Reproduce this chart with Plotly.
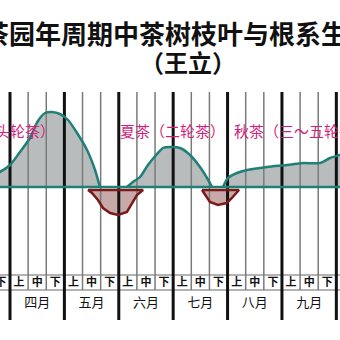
import plotly.graph_objects as go

# ---------------- data ----------------
MONTHS = ["四月", "五月", "六月", "七月", "八月", "九月"]
DEKADS = ["上", "中", "下"]
PREV_DEKAD = "下"  # last dekad of March, partly visible

TITLE_1 = "茶园年周期中茶树枝叶与根系生长规律"
TITLE_2 = "（王立）"

# shoot growth (above baseline); x in dekads from 1 April
SPRING_X = [-1.10, -0.55, 0.00, 0.55, 1.10, 1.54, 1.93, 2.32, 2.76, 3.20, 3.70, 4.25, 4.69, 4.96]
SPRING_Y = [9, 15, 22, 35, 49, 66, 74, 75, 73, 67, 54, 37, 17, 0]
SUMMER_X = [6.45, 6.78, 7.17, 7.61, 8.11, 8.44, 8.82, 9.38, 9.93, 10.48, 10.87, 11.14]
SUMMER_Y = [0, 5, 10, 22, 33, 39, 40, 39, 32, 20, 9, 0]
AUTUMN_X = [11.75, 12.03, 12.52, 13.07, 14.18, 15.28, 16.16, 17.10, 17.65, 18.20, 18.75]
AUTUMN_Y = [0, 9, 14, 17, 20, 22, 24, 24, 29, 32, 35]

# root growth (below baseline)
ROOT1_X = [4.30, 4.52, 4.85, 5.13, 5.52, 5.96, 6.45, 6.73, 7.00, 7.34]
ROOT1_Y = [-3, -6, -13, -21, -26, -28, -25, -17, -8, -3]
ROOT2_X = [10.59, 10.76, 11.03, 11.47, 11.96, 12.24, 12.52, 12.63]
ROOT2_Y = [-3, -8, -15, -18, -16, -11, -5, -3]

SEASON_LABELS = ["春茶（头轮茶）", "夏茶（二轮茶）", "秋茶（三～五轮茶）"]

# ---------------- style / layout ----------------
FONT = "Noto Sans CJK SC"
TEAL = "#1f8078"
GREY_FILL = "#b9bcbc"
RED = "#7a1a1a"
RED_FILL = "#c8a9a9"
MAGENTA = "#d21f7c"

X_RANGE = [-10 / 18.13, 330 / 18.13]
Y_RANGE = [-153, 187]

GRID_TOP = 95
THIN_BOTTOM = -103
THICK_BOTTOM = -133
TABLE_LINES = [-88, -103]
DEKAD_Y = -96
MONTH_Y = -117
LABEL_Y = 57

fig = go.Figure()

# fills (no outline) first
for xs, ys in [(SPRING_X, SPRING_Y), (SUMMER_X, SUMMER_Y), (AUTUMN_X, AUTUMN_Y)]:
    fig.add_trace(go.Scatter(x=xs, y=ys, mode="lines", fill="tozeroy",
                             fillcolor=GREY_FILL, line=dict(width=0, shape="spline", smoothing=0.8),
                             hoverinfo="skip", showlegend=False))
for xs, ys in [(ROOT1_X, ROOT1_Y), (ROOT2_X, ROOT2_Y)]:
    fig.add_trace(go.Scatter(x=xs + xs[:1], y=ys + ys[:1], mode="lines", fill="toself",
                             fillcolor=RED_FILL, line=dict(width=0),
                             hoverinfo="skip", showlegend=False))

# grid lines (dekad boundaries)
n_dekads = len(MONTHS) * len(DEKADS)
thin_x, thin_y, thick_x, thick_y = [], [], [], []
for d in range(0, n_dekads + 1):
    if d % len(DEKADS) == 0:
        thick_x += [d, d, None]
        thick_y += [GRID_TOP, THICK_BOTTOM, None]
    else:
        thin_x += [d, d, None]
        thin_y += [GRID_TOP, THIN_BOTTOM, None]
fig.add_trace(go.Scatter(x=thin_x, y=thin_y, mode="lines", line=dict(color="#7a7a7a", width=1.5),
                         hoverinfo="skip", showlegend=False))
fig.add_trace(go.Scatter(x=thick_x, y=thick_y, mode="lines", line=dict(color="#111111", width=3),
                         hoverinfo="skip", showlegend=False))

# outlines
for xs, ys in [(SPRING_X, SPRING_Y), (SUMMER_X, SUMMER_Y), (AUTUMN_X, AUTUMN_Y)]:
    fig.add_trace(go.Scatter(x=xs, y=ys, mode="lines",
                             line=dict(color=TEAL, width=2.5, shape="spline", smoothing=0.8),
                             hoverinfo="skip", showlegend=False))
for xs, ys in [(ROOT1_X, ROOT1_Y), (ROOT2_X, ROOT2_Y)]:
    fig.add_trace(go.Scatter(x=xs + xs[:1], y=ys + ys[:1], mode="lines",
                             line=dict(color=RED, width=2.5),
                             hoverinfo="skip", showlegend=False))

# dekad labels
dk_x = [-0.5]
dk_t = [PREV_DEKAD]
for m in range(len(MONTHS)):
    for k, name in enumerate(DEKADS):
        dk_x.append(m * len(DEKADS) + k + 0.5)
        dk_t.append(name)
fig.add_trace(go.Scatter(x=dk_x, y=[DEKAD_Y] * len(dk_x), mode="text",
                         text=["<b>" + t + "</b>" for t in dk_t],
                         textfont=dict(family=FONT, size=11, color="#111111"),
                         hoverinfo="skip", showlegend=False))
# month labels
fig.add_trace(go.Scatter(x=[m * len(DEKADS) + 1.5 for m in range(len(MONTHS))],
                         y=[MONTH_Y] * len(MONTHS), mode="text", text=MONTHS,
                         textfont=dict(family=FONT, size=13, color="#111111"),
                         hoverinfo="skip", showlegend=False))

shapes = []
for ty in TABLE_LINES:
    shapes.append(dict(type="line", xref="paper", x0=0, x1=1, yref="y", y0=ty, y1=ty,
                       line=dict(color="#9a9a9a", width=1.5), layer="below"))
shapes.append(dict(type="line", xref="paper", x0=0, x1=1, yref="y", y0=0, y1=0,
                   line=dict(color=TEAL, width=2.5), layer="above"))

annotations = [
    dict(text="<b>" + TITLE_1 + "</b>", xref="paper", yref="paper", x=-19 / 340, y=1 - 32 / 340,
         xanchor="left", yanchor="middle", showarrow=False,
         font=dict(family=FONT, size=26, color="#111111")),
    dict(text="<b>" + TITLE_2 + "</b>", xref="paper", yref="paper", x=188 / 340, y=1 - 61 / 340,
         xanchor="center", yanchor="middle", showarrow=False,
         font=dict(family=FONT, size=24, color="#111111")),
    dict(text=SEASON_LABELS[0], x=(57 - 10) / 18.13, y=LABEL_Y, xanchor="right", yanchor="middle",
         showarrow=False, font=dict(family=FONT, size=15, color=MAGENTA)),
    dict(text=SEASON_LABELS[1], x=(118 - 10) / 18.13, y=LABEL_Y, xanchor="left", yanchor="middle",
         showarrow=False, font=dict(family=FONT, size=15, color=MAGENTA)),
    dict(text=SEASON_LABELS[2], x=(232 - 10) / 18.13, y=LABEL_Y, xanchor="left", yanchor="middle",
         showarrow=False, font=dict(family=FONT, size=15, color=MAGENTA)),
]

fig.update_layout(
    width=340, height=340,
    margin=dict(l=0, r=0, t=0, b=0),
    paper_bgcolor="white", plot_bgcolor="white",
    xaxis=dict(range=X_RANGE, visible=False, fixedrange=True),
    yaxis=dict(range=Y_RANGE, visible=False, fixedrange=True),
    shapes=shapes, annotations=annotations,
    showlegend=False,
)

fig.write_html("out.html", config={"displayModeBar": False})
